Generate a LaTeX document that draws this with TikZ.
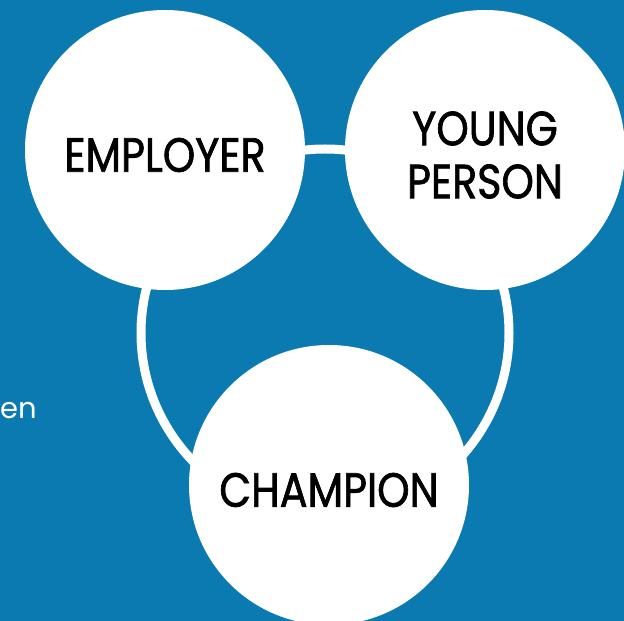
\documentclass[tikz,border=0pt]{standalone}
\usepackage{fontspec}
\setmainfont{Poppins}
\newfontfamily\partyfont{Poppins}[FakeBold=1.5]
\usepackage{tikz}
\usetikzlibrary{positioning}
\usepackage{xcolor}
\definecolor{bgblue}{RGB}{10,122,176}

\newcommand{\squeezed}[1]{\raisebox{-5pt}[\height][\depth]{\scalebox{0.86}[1]{#1}}}

\begin{document}
\begin{tikzpicture}[x=1pt, y=1pt,
  party/.style={circle, fill=white, minimum size=280pt, inner sep=0pt, align=center, text=black, font=\partyfont\fontsize{48}{55}\selectfont},
  ring/.style={draw=white, line width=9pt}]

  % Define radius of the ring
  \def\r{184}

  % Background
  \fill[bgblue] (0, 0) rectangle (624, 621);
  \useasboundingbox (0, 0) rectangle (624, 621);

  \node[white, anchor=west, inner sep=0pt, font=\fontsize{29}{34}\selectfont] (cut) at (0, 210) {en};

  % Ring
  \coordinate (hub) at (325, 288);
  \draw[ring] (hub) circle (\r);

  % Parties
  \node[party] (employer) at (165, 471) {\squeezed{EMPLOYER}};
  \node[party] (young) at (485, 471) {\squeezed{YOUNG}\\[-2pt]\squeezed{PERSON}};
  \node[party] (champion) at (329, 136) {\squeezed{CHAMPION}};

\end{tikzpicture}
\end{document}
